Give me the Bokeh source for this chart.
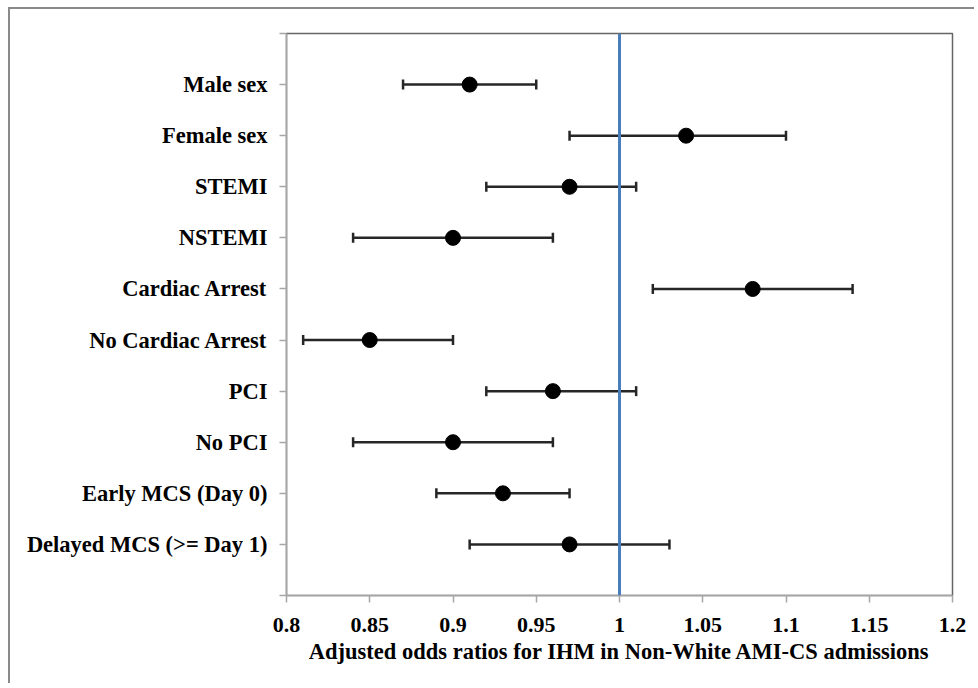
import math
from bokeh.plotting import figure
from bokeh.models import Range1d, FixedTicker, Span, CustomJSTickFormatter, ColumnDataSource
from bokeh.embed import file_html
from bokeh.resources import INLINE

categories = ["Male sex", "Female sex", "STEMI", "NSTEMI", "Cardiac Arrest",
              "No Cardiac Arrest", "PCI", "No PCI", "Early MCS (Day 0)",
              "Delayed MCS (>= Day 1)"]
odds = [0.91, 1.04, 0.97, 0.90, 1.08, 0.85, 0.96, 0.90, 0.93, 0.97]
lower = [0.87, 0.97, 0.92, 0.84, 1.02, 0.81, 0.92, 0.84, 0.89, 0.91]
upper = [0.95, 1.10, 1.01, 0.96, 1.14, 0.90, 1.01, 0.96, 0.97, 1.03]
x_ticks = [0.8, 0.85, 0.9, 0.95, 1.0, 1.05, 1.1, 1.15, 1.2]
reference_value = 1.0
x_title = "Adjusted odds ratios for IHM in Non-White AMI-CS admissions"

n = len(categories)
pos = list(range(1, n + 1))

src = ColumnDataSource(dict(y=pos, odds=odds, lower=lower, upper=upper))

p = figure(width=966, height=676, output_backend="svg", toolbar_location=None,
           x_range=Range1d(x_ticks[0], x_ticks[-1]), y_range=Range1d(n + 1, 0),
           min_border_left=276, min_border_right=24, min_border_top=24, min_border_bottom=90)
p.styles = {"border-top": "2px solid #8a8a8a", "border-left": "2px solid #8a8a8a",
            "margin-left": "8px", "margin-top": "7px"}

p.background_fill_color = "white"
p.border_fill_color = "white"
p.outline_line_color = "#666666"
p.outline_line_width = 1.5
p.xgrid.visible = False
p.ygrid.visible = False

FONT = "Liberation Serif"

# x axis
xa = p.xaxis[0]
xa.ticker = FixedTicker(ticks=x_ticks)
xa.formatter = CustomJSTickFormatter(code="return String(Math.round(tick*100)/100)")
xa.axis_line_color = "#a6a6a6"
xa.axis_line_width = 1.5
xa.major_tick_line_color = "#a6a6a6"
xa.major_tick_line_width = 1.5
xa.major_tick_out = 7
xa.major_tick_in = 0
xa.minor_tick_out = 0
xa.minor_tick_in = 0
xa.major_label_text_font = FONT
xa.major_label_text_font_style = "bold"
xa.major_label_text_font_size = "22px"
xa.major_label_text_color = "black"
xa.major_label_standoff = 15
xa.axis_label = x_title
xa.axis_label_text_font = FONT
xa.axis_label_text_font_style = "bold"
xa.axis_label_text_font_size = "22.5px"
xa.axis_label_text_color = "black"
xa.axis_label_standoff = 4

# y axis
ya = p.yaxis[0]
ya.ticker = FixedTicker(ticks=list(range(0, n + 2)))
overrides = {i: "" for i in range(0, n + 2)}
for i, c in zip(pos, categories):
    overrides[i] = c
ya.major_label_overrides = overrides
ya.axis_line_color = "#a6a6a6"
ya.axis_line_width = 1.5
ya.major_tick_line_color = "#a6a6a6"
ya.major_tick_line_width = 1.5
ya.major_tick_out = 7
ya.major_tick_in = 0
ya.minor_tick_out = 0
ya.minor_tick_in = 0
ya.major_label_text_font = FONT
ya.major_label_text_font_style = "bold"
ya.major_label_text_font_size = "22.5px"
ya.major_label_text_color = "black"
ya.major_label_standoff = 12

# error bars
p.segment(x0="lower", x1="upper", y0="y", y1="y", source=src,
          line_color="#262626", line_width=2.5)
p.scatter(x="lower", y="y", source=src, marker="dash", angle=math.pi / 2,
          size=10, line_color="#262626", line_width=2.5)
p.scatter(x="upper", y="y", source=src, marker="dash", angle=math.pi / 2,
          size=10, line_color="#262626", line_width=2.5)
p.scatter(x="odds", y="y", source=src, marker="circle", size=15,
          fill_color="black", line_color="black")

p.add_layout(Span(location=reference_value, dimension="height",
                  line_color="#4a7ebb", line_width=3))

open("out.html", "w").write(file_html(p, INLINE))
